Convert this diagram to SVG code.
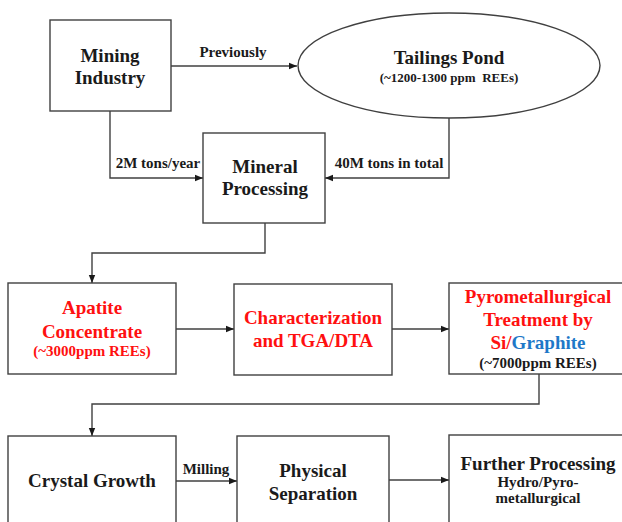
<svg xmlns="http://www.w3.org/2000/svg" width="622" height="522" viewBox="0 0 622 522">
<defs>
<style>
.box{fill:#fff;stroke:#404040;stroke-width:1.4}
text{font-family:'Liberation Serif','Times New Roman','DejaVu Serif',serif;font-weight:bold;text-anchor:middle;fill:#1a1a1a}
.big{font-size:19px}
.sm{font-size:15px}
.xs{font-size:13px}
.red{fill:#ff1010}
.blue{fill:#1e78c8}
.c{fill:none;stroke:#404040;stroke-width:1.4}
</style>
<marker id="ah" viewBox="0 0 8 8" refX="8" refY="4" markerWidth="8" markerHeight="8" markerUnits="userSpaceOnUse" orient="auto">
<path d="M0,0.8 L8,4 L0,7.2 Z" fill="#1a1a1a"/>
</marker>
</defs>
<rect width="622" height="522" fill="#fff"/>
<g id="connectors" font-family="Liberation Serif, serif">
<path class="c" d="M171,66 H297" marker-end="url(#ah)"/>
<path class="c" d="M110,111 V178 H203" marker-end="url(#ah)"/>
<path class="c" d="M449,118 V178 H325" marker-end="url(#ah)"/>
<path class="c" d="M265,223 V253 H92 V283" marker-end="url(#ah)"/>
<path class="c" d="M176,329 H234" marker-end="url(#ah)"/>
<path class="c" d="M392,329 H449" marker-end="url(#ah)"/>
<path class="c" d="M539,374 V404 H92 V436" marker-end="url(#ah)"/>
<path class="c" d="M176,481 H237" marker-end="url(#ah)"/>
<path class="c" d="M389,480 H449" marker-end="url(#ah)"/>
<text class="sm" x="233" y="57">Previously</text>
<text class="sm" x="158" y="168">2M tons/year</text>
<text class="sm" x="389" y="168">40M tons in total</text>
<text class="sm" x="206" y="474">Milling</text>
</g>
<g id="mining">
<rect class="box" x="50" y="20" width="121" height="91"/>
<text class="big" x="110" y="62">Mining</text>
<text class="big" x="110" y="84">Industry</text>
</g>
<g id="tailings">
<ellipse class="box" cx="449" cy="65.5" rx="151" ry="52.5"/>
<text class="big" x="449" y="64">Tailings Pond</text>
<text class="xs" x="449" y="82" xml:space="preserve">(~1200-1300 ppm  REEs)</text>
</g>
<g id="mineral">
<rect class="box" x="203" y="133" width="122" height="90"/>
<text class="big" x="265" y="173">Mineral</text>
<text class="big" x="265" y="195">Processing</text>
</g>
<g id="apatite">
<rect class="box" x="8" y="283" width="168" height="91"/>
<text class="big red" x="92" y="314">Apatite</text>
<text class="big red" x="92" y="338">Concentrate</text>
<text class="sm red" x="92" y="356">(~3000ppm REEs)</text>
</g>
<g id="characterization">
<rect class="box" x="234" y="284" width="158" height="91"/>
<text class="big red" x="313" y="324">Characterization</text>
<text class="big red" x="313" y="347">and TGA/DTA</text>
</g>
<g id="pyro">
<rect class="box" x="449" y="283" width="185" height="91"/>
<text class="big red" x="538" y="303">Pyrometallurgical</text>
<text class="big red" x="538" y="326">Treatment by</text>
<text class="big" x="538" y="349"><tspan class="red">Si/</tspan><tspan class="blue">Graphite</tspan></text>
<text class="sm" x="538" y="368">(~7000ppm REEs)</text>
</g>
<g id="crystal">
<rect class="box" x="8" y="436" width="168" height="100"/>
<text class="big" x="92" y="487">Crystal Growth</text>
</g>
<g id="physical">
<rect class="box" x="237" y="436" width="152" height="100"/>
<text class="big" x="313" y="477">Physical</text>
<text class="big" x="313" y="500">Separation</text>
</g>
<g id="further">
<rect class="box" x="449" y="435" width="185" height="100"/>
<text class="big" x="538" y="470">Further Processing</text>
<text class="sm" x="538" y="487">Hydro/Pyro-</text>
<text class="sm" x="538" y="503">metallurgical</text>
</g>
</svg>
